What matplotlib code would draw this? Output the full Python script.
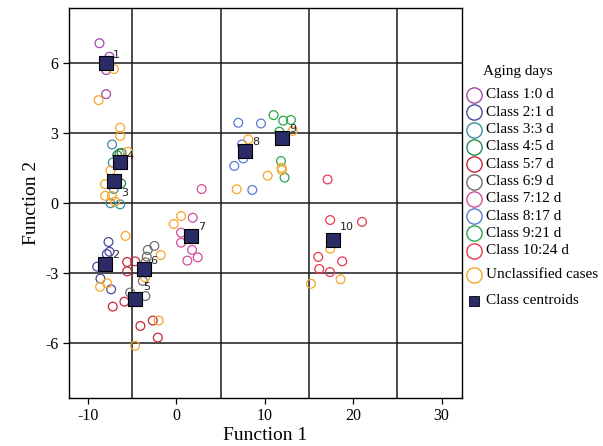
import numpy as np
import matplotlib
matplotlib.use('Agg')
import matplotlib.pyplot as plt
from matplotlib.lines import Line2D

plt.rcParams['font.family'] = ['Liberation Serif', 'DejaVu Serif']
plt.rcParams['axes.unicode_minus'] = False

# discriminant scores (Function 1, Function 2) per class
c1_x = [-8.7, -7.57, -7.95, -7.95, -7.8]
c1_y = [6.85, 6.27, 5.7, 4.67, 6.1]
c2_x = [-7.68, -7.57, -7.87, -8.96, -8.59, -7.38]
c2_y = [-1.67, -2.09, -2.19, -2.73, -3.24, -3.7]
c3_x = [-7.27, -7.2, -7.08, -7.46, -6.36]
c3_y = [2.51, 1.73, 0.6, -0.01, -0.06]
c4_x = [-6.44, -6.25, -6.2, -6.7, -6.4]
c4_y = [2.13, 0.84, 2.15, 2.05, 1.65]
c5_x = [-5.57, -4.67, -5.57, -5.88, -7.2, -4.07, -2.67, -2.1]
c5_y = [-2.53, -2.5, -2.93, -4.23, -4.44, -5.27, -5.04, -5.77]
c6_x = [-2.49, -3.24, -3.35, -3.5, -3.8, -5.23, -3.5]
c6_y = [-1.84, -2.01, -2.3, -2.54, -3.34, -3.84, -3.99]
c7_x = [0.53, 0.53, 1.77, 1.24, 2.41, 2.86, 1.85]
c7_y = [-1.27, -1.7, -2.01, -2.47, -2.33, 0.6, -0.63]
c8_x = [7.0, 9.57, 7.42, 7.57, 6.55, 8.59]
c8_y = [3.44, 3.41, 2.51, 1.91, 1.59, 0.56]
c9_x = [11.0, 12.09, 12.96, 11.64, 11.83, 12.24]
c9_y = [3.77, 3.53, 3.56, 3.06, 1.8, 1.09]
c10_x = [17.1, 17.4, 21.0, 16.05, 18.76, 16.16, 17.37]
c10_y = [1.01, -0.73, -0.81, -2.31, -2.5, -2.83, -2.96]

unc_x = [-7.08, -8.8, -6.36, -6.36, -5.5, -7.46, -8.06, -8.06, -7.3, -6.93,
         0.53, -0.3, -5.76, -7.84, -8.63, -1.77, -3.54, -2.0, -4.67,
         13.15, 8.14, 11.9, 11.94, 10.33, 6.82, 17.4, 18.57, 15.22]
unc_y = [5.74, 4.41, 3.23, 2.87, 2.2, 1.39, 0.81, 0.31, 0.3, 0.06,
         -0.56, -0.9, -1.41, -3.44, -3.59, -2.23, -3.19, -5.04, -6.12,
         3.09, 2.73, 1.51, 1.41, 1.17, 0.59, -1.96, -3.27, -3.46]

cen_x = [-7.95, -8.02, -7.08, -6.4, -4.67, -3.69, 1.66, 7.8, 11.94, 17.7]
cen_y = [5.99, -2.61, 0.96, 1.76, -4.1, -2.84, -1.41, 2.23, 2.8, -1.59]
cen_lab = ['1', '2', '3', '4', '5', '6', '7', '8', '9', '10']
# label offsets in points
lab_off = [(5, 4), (5, 4), (5, -11), (5, 2), (6, 6), (5, 4), (5, 4), (5, 4), (5, 4), (5, 7)]

class_names = ['Class 1:0 d', 'Class 2:1 d', 'Class 3:3 d', 'Class 4:5 d', 'Class 5:7 d',
               'Class 6:9 d', 'Class 7:12 d', 'Class 8:17 d', 'Class 9:21 d', 'Class 10:24 d']
colors = ['#a24aa6', '#4a4c9e', '#3a8ea0', '#2a8a55', '#c4283c',
          '#707070', '#d64c9c', '#5a7ad2', '#2aa64c', '#e8384f']
unc_color = '#f5a62a'
cen_color = '#2b2b66'

xs = [c1_x, c2_x, c3_x, c4_x, c5_x, c6_x, c7_x, c8_x, c9_x, c10_x]
ys = [c1_y, c2_y, c3_y, c4_y, c5_y, c6_y, c7_y, c8_y, c9_y, c10_y]

fig = plt.figure(figsize=(6.03, 4.46), dpi=100)
ax = fig.add_axes([0.1144, 0.1076, 0.6516, 0.8744])

for x, y, c in zip(xs, ys, colors):
    ax.scatter(x, y, s=40, facecolors='none', edgecolors=c, linewidths=0.9, zorder=3)
ax.scatter(unc_x, unc_y, s=40, facecolors='none', edgecolors=unc_color, linewidths=0.9, zorder=3)
ax.scatter(cen_x, cen_y, s=95, marker='s', color=cen_color, edgecolors='black',
           linewidths=0.8, zorder=4)
for x, y, t, off in zip(cen_x, cen_y, cen_lab, lab_off):
    ax.annotate(t, (x, y), xytext=off, textcoords='offset points', fontsize=8,
                family='DejaVu Sans', color='#222222', zorder=5)

# grid
for gx in [-5, 5, 15, 25]:
    ax.axvline(gx, color='#1a1a1a', lw=1.1, zorder=1)
for gy in [-6, -3, 0, 3, 6]:
    ax.axhline(gy, color='#1a1a1a', lw=1.1, zorder=1)

ax.set_xlim(-12.15, 32.3)
ax.set_ylim(-8.36, 8.36)
ax.set_xticks([-10, 0, 10, 20, 30])
ax.set_yticks([-6, -3, 0, 3, 6])
ax.tick_params(direction='out', length=4, width=0.9, labelsize=11.5)
for sp in ax.spines.values():
    sp.set_linewidth(1.0)
ax.set_xlabel('Function 1', fontsize=14, labelpad=2)
ax.set_ylabel('Function 2', fontsize=14, labelpad=4)

# legend drawn in figure pixel coordinates
W, H = 603.0, 446.0
def fx(px):
    return px / W
def fy(py):
    return 1 - py / H

fs = 11
fig.text(fx(483), fy(72), 'Aging days', fontsize=fs, va='center', ha='left')
rows = [95 + 17.3 * i for i in range(10)]
for py, name, c in zip(rows, class_names, colors):
    fig.add_artist(Line2D([fx(474)], [fy(py)], marker='o', markersize=11, markerfacecolor='none',
                          markeredgecolor=c, markeredgewidth=1.0, transform=fig.transFigure))
    fig.text(fx(486), fy(py), name, fontsize=fs, va='center', ha='left')
fig.add_artist(Line2D([fx(474)], [fy(275)], marker='o', markersize=11, markerfacecolor='none',
                      markeredgecolor=unc_color, markeredgewidth=1.0, transform=fig.transFigure))
fig.text(fx(486), fy(275), 'Unclassified cases', fontsize=fs, va='center', ha='left')
fig.add_artist(Line2D([fx(474)], [fy(301)], marker='s', markersize=7.5, markerfacecolor=cen_color,
                      markeredgecolor='black', markeredgewidth=0.6, transform=fig.transFigure))
fig.text(fx(486), fy(301), 'Class centroids', fontsize=fs, va='center', ha='left')

fig.savefig('out.png', dpi=100)
